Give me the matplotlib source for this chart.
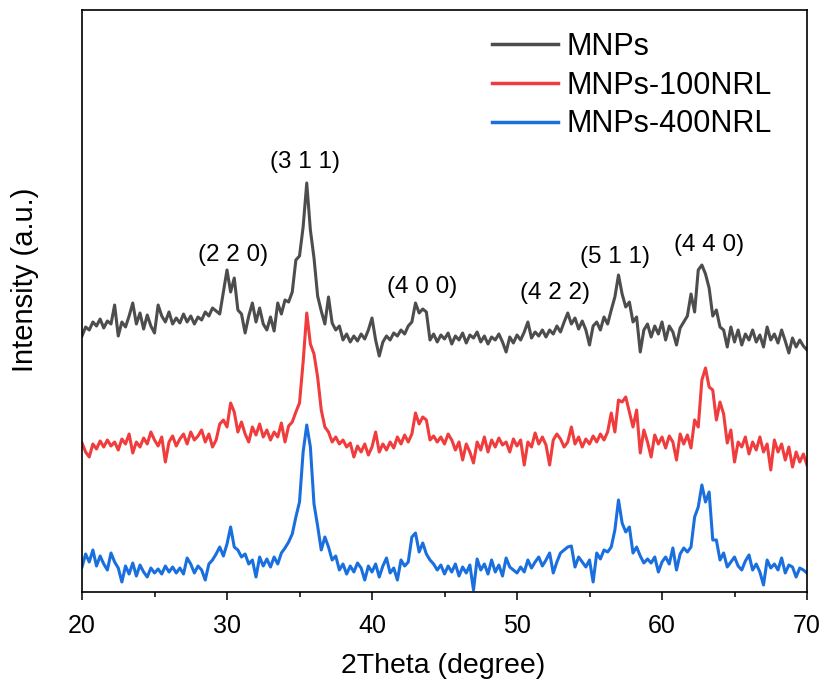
import numpy as np
import matplotlib
matplotlib.use("Agg")
import matplotlib.pyplot as plt

plt.rcParams['font.family'] = ['Liberation Sans', 'DejaVu Sans']

# 2theta sampling grid (0.25 degree step, 20-70 degrees)
two_theta = np.linspace(20, 70, 201)

# Intensities (a.u., stacked offsets included)
mnps = [
    256, 265, 262, 270, 266, 273, 264, 271, 268, 287, 256, 270,
    265, 276, 289, 268, 279, 263, 277, 266, 259, 287, 276, 270,
    280, 268, 274, 269, 278, 270, 276, 268, 275, 272, 280, 276,
    284, 281, 278, 300, 322, 300, 314, 282, 278, 259, 276, 289,
    270, 284, 268, 262, 275, 261, 289, 278, 292, 290, 300, 332,
    336, 365, 409, 362, 334, 296, 281, 268, 295, 269, 262, 266,
    252, 258, 250, 256, 251, 258, 253, 262, 274, 252, 236, 250,
    256, 252, 259, 256, 262, 258, 266, 270, 289, 279, 283, 280,
    252, 258, 250, 257, 253, 259, 248, 256, 252, 259, 249, 257,
    254, 260, 250, 256, 248, 255, 252, 258, 250, 240, 255, 249,
    257, 252, 260, 270, 254, 260, 256, 262, 255, 262, 258, 266,
    260, 270, 279, 268, 274, 263, 271, 262, 247, 266, 270, 262,
    275, 268, 282, 295, 317, 298, 285, 290, 270, 275, 240, 262,
    268, 255, 266, 258, 270, 252, 266, 260, 247, 264, 270, 276,
    298, 280, 322, 327, 318, 304, 276, 282, 265, 262, 245, 265,
    250, 262, 247, 258, 252, 262, 250, 257, 245, 265, 252, 258,
    249, 262, 251, 239, 254, 245, 252, 246, 242,
]

mnps_100nrl = [
    149, 140, 135, 148, 143, 151, 145, 152, 146, 150, 142, 153,
    148, 158, 139, 150, 145, 154, 148, 160, 152, 146, 155, 130,
    150, 156, 146, 153, 158, 148, 160, 152, 156, 162, 150, 158,
    145, 152, 168, 172, 165, 189, 180, 160, 170, 158, 150, 165,
    157, 168, 155, 162, 152, 160, 155, 169, 150, 166, 170, 180,
    189, 230, 279, 248, 238, 215, 182, 165, 160, 150, 155, 148,
    152, 145, 149, 135, 146, 140, 148, 137, 145, 160, 140, 148,
    142, 150, 144, 155, 148, 157, 150, 158, 179, 168, 175, 172,
    152, 156, 150, 155, 148, 158, 152, 142, 150, 132, 148, 140,
    129, 150, 142, 155, 140, 152, 145, 154, 147, 150, 140, 153,
    146, 152, 127, 150, 145, 159, 148, 155, 147, 127, 152, 158,
    153, 145, 150, 165, 148, 155, 145, 153, 148, 156, 150, 158,
    152, 160, 179, 160, 192, 190, 195, 180, 165, 182, 139, 162,
    150, 135, 157, 148, 155, 144, 156, 150, 132, 158, 148, 157,
    144, 172, 165, 212, 224, 205, 202, 172, 190, 178, 149, 162,
    130, 150, 145, 155, 138, 150, 142, 155, 140, 148, 122, 152,
    140, 148, 132, 145, 125, 140, 130, 138, 127,
]

mnps_400nrl = [
    25, 38, 30, 42, 26, 36, 28, 22, 39, 30, 24, 10,
    26, 18, 29, 16, 27, 20, 15, 24, 19, 23, 18, 26,
    20, 25, 19, 24, 18, 34, 28, 19, 26, 22, 12, 28,
    32, 38, 45, 36, 48, 65, 45, 42, 35, 38, 28, 32,
    15, 35, 26, 33, 25, 35, 28, 39, 44, 50, 58, 75,
    90, 140, 167, 145, 88, 66, 42, 55, 45, 32, 36, 22,
    28, 18, 26, 20, 29, 24, 12, 26, 20, 28, 15, 26,
    34, 19, 24, 12, 32, 26, 30, 55, 59, 40, 49, 38,
    32, 28, 22, 27, 18, 26, 20, 28, 16, 25, 19, 27,
    2, 33, 22, 28, 18, 32, 20, 27, 16, 34, 25, 22,
    19, 25, 20, 32, 24, 30, 35, 26, 32, 39, 19, 30,
    39, 42, 45, 46, 25, 35, 30, 25, 32, 10, 39, 33,
    42, 40, 45, 62, 92, 69, 60, 65, 39, 45, 36, 29,
    33, 29, 35, 20, 30, 35, 28, 44, 22, 38, 44, 40,
    45, 75, 85, 107, 90, 100, 52, 52, 32, 39, 25, 30,
    35, 26, 22, 31, 37, 22, 28, 20, 7, 32, 24, 28,
    22, 34, 19, 27, 25, 15, 24, 22, 19,
]

series_labels = ['MNPs', 'MNPs-100NRL', 'MNPs-400NRL']
series_colors = ['#4d4d4d', '#f03c3c', '#1a6fdf']

peak_labels = ['(2 2 0)', '(3 1 1)', '(4 0 0)', '(4 2 2)', '(5 1 1)', '(4 4 0)']
peak_x = [30.4, 35.4, 43.45, 52.6, 56.75, 63.25]
peak_y = [337, 430, 305, 299, 335, 347]

fig = plt.figure(figsize=(8.23, 6.82), dpi=100)
ax = fig.add_axes([82/823, 1-592/682, 725/823, 582/682])

for data, lab, col in zip([mnps, mnps_100nrl, mnps_400nrl], series_labels, series_colors):
    ax.plot(two_theta, data, color=col, lw=2.2, label=lab)

for lab, px, py in zip(peak_labels, peak_x, peak_y):
    ax.text(px, py, lab, ha='center', va='center', fontsize=17.5, color='black')

ax.set_xlim(20, 70)
ax.set_ylim(0, 582)
ax.set_xticks([20, 30, 40, 50, 60, 70])
ax.set_xticks([25, 35, 45, 55, 65], minor=True)
ax.set_yticks([])
ax.tick_params(axis='x', which='major', direction='out', length=6, width=1.1, labelsize=18, pad=10)
ax.tick_params(axis='x', which='minor', direction='out', length=3.5, width=1.1)
for sp in ax.spines.values():
    sp.set_linewidth(1.2)

ax.set_xlabel('2Theta (degree)', fontsize=20.5)
ax.xaxis.set_label_coords(0.498, -0.127)
ax.xaxis.label.set_va('center')
ax.set_ylabel('Intensity (a.u.)', fontsize=21)
ax.yaxis.set_label_coords(-0.079, 0.536)
ax.yaxis.label.set_va('center')

leg = ax.legend(loc='upper left', bbox_to_anchor=(0.5655, 0.962), frameon=False,
                fontsize=22, handlelength=2.15, handletextpad=0.28, labelspacing=0.28,
                borderpad=0, borderaxespad=0)
for line in leg.get_lines():
    line.set_linewidth(2.5)

fig.savefig('out.png', dpi=100)
